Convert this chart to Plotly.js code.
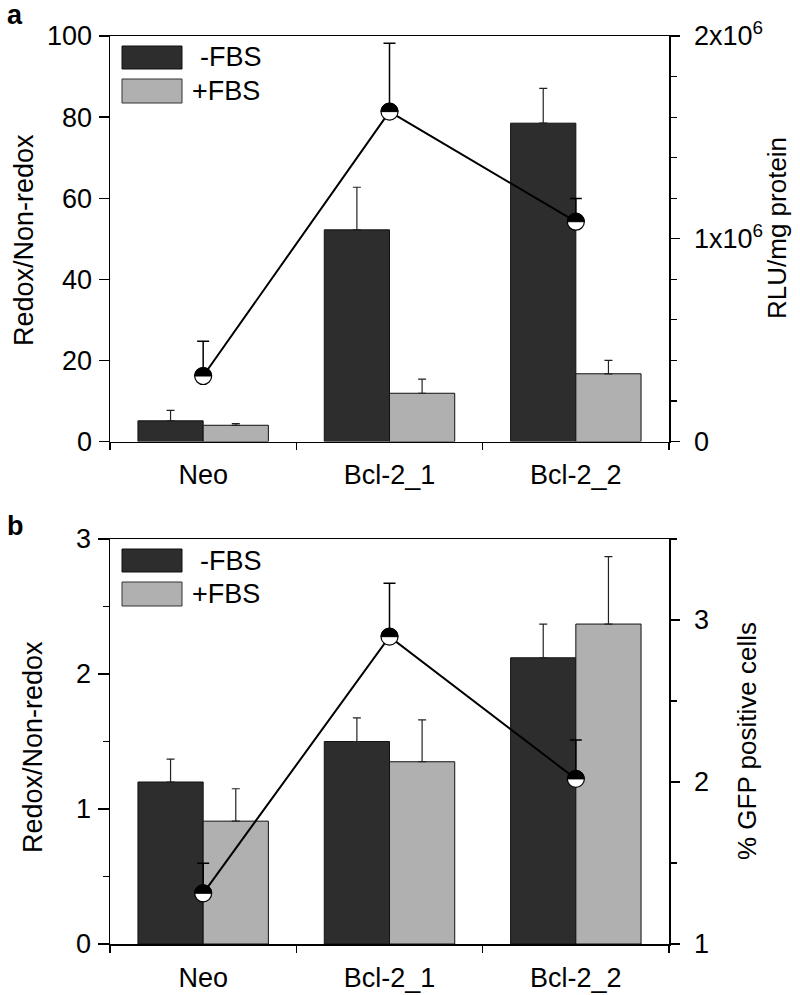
<!DOCTYPE html>
<html>
<head>
<meta charset="utf-8">
<script src="https://cdn.plot.ly/plotly-3.0.1.min.js"></script>
<style>html,body{margin:0;padding:0;background:#fff}</style>
</head>
<body>
<div id="chart" style="width:800px;height:995px"></div>
<script>
// ---- data ----
const categories = ['Neo', 'Bcl-2_1', 'Bcl-2_2'];
const seriesNames = ['-FBS', '+FBS'];

// panel a
const aMinusFBS = [5.1, 52.2, 78.5];
const aMinusFBSErr = [2.6, 10.5, 8.6];
const aPlusFBS = [4.0, 11.9, 16.7];
const aPlusFBSErr = [0.4, 3.5, 3.3];
const aRLU = [0.323e6, 1.627e6, 1.084e6];
const aRLUErr = [0.171e6, 0.337e6, 0.115e6];
const aLeftTicks = [0, 20, 40, 60, 80, 100];
const aRightTicks = [0, 1e6, 2e6];
const aRightTickText = ['0', '1x10<sup>6</sup>', '2x10<sup>6</sup>'];

// panel b
const bMinusFBS = [1.20, 1.50, 2.12];
const bMinusFBSErr = [0.17, 0.175, 0.25];
const bPlusFBS = [0.91, 1.35, 2.37];
const bPlusFBSErr = [0.24, 0.31, 0.50];
const bGFP = [1.313, 2.897, 2.019];
const bGFPErr = [0.185, 0.33, 0.24];
const bLeftTicks = [0, 1, 2, 3];
const bRightTicks = [1, 2, 3];

// ---- styling ----
const FONT = 'Liberation Sans, Arial, sans-serif';
const DARK = '#2d2d2d';
const LIGHT = '#b0b0b0';
const W = 800, H = 995;
const L = 110, R = 669, T = 36, B = 944;
const zeros = [0, 0, 0];

function barTrace(y, err, color, xa, ya, name) {
  return {
    type: 'bar', x: categories, y: y, name: name, xaxis: xa, yaxis: ya,
    marker: {color: color, line: {color: '#111', width: 1}},
    error_y: {type: 'data', array: err, arrayminus: zeros, symmetric: false,
              color: '#222', thickness: 1.2, width: 4},
    showlegend: false, hoverinfo: 'skip'
  };
}
function lineTrace(y, err, xa, ya) {
  return {
    type: 'scatter', mode: 'lines+markers', x: categories, y: y, xaxis: xa, yaxis: ya,
    line: {color: '#000', width: 2},
    marker: {symbol: 'circle', size: 17, color: '#fff', line: {color: '#000', width: 1.2}},
    error_y: {type: 'data', array: err, arrayminus: zeros, symmetric: false,
              color: '#000', thickness: 1.5, width: 6},
    showlegend: false, hoverinfo: 'skip'
  };
}

const data = [
  barTrace(aMinusFBS, aMinusFBSErr, DARK, 'x', 'y', seriesNames[0]),
  barTrace(aPlusFBS, aPlusFBSErr, LIGHT, 'x', 'y', seriesNames[1]),
  lineTrace(aRLU, aRLUErr, 'x', 'y2'),
  barTrace(bMinusFBS, bMinusFBSErr, DARK, 'x2', 'y3', seriesNames[0]),
  barTrace(bPlusFBS, bPlusFBSErr, LIGHT, 'x2', 'y3', seriesNames[1]),
  lineTrace(bGFP, bGFPErr, 'x2', 'y4')
];

// upper half of marker (black) drawn as pixel-size shapes anchored at data points
const r = 8.5, k = 0.5523 * r;
const halfPath = `M ${-r},0 C ${-r},${k} ${-k},${r} 0,${r} C ${k},${r} ${r},${k} ${r},0 Z`;
const shapes = [];
function addHalves(ys, xref, yref) {
  categories.forEach((c, i) => {
    shapes.push({type: 'path', xref: xref, yref: yref, xsizemode: 'pixel', ysizemode: 'pixel',
      xanchor: c, yanchor: ys[i], path: halfPath, fillcolor: '#000',
      line: {color: '#000', width: 1}, layer: 'above'});
  });
}
addHalves(aRLU, 'x', 'y2');
addHalves(bGFP, 'x2', 'y4');

// helpers pixel -> paper
const px = v => (v - L) / (R - L);
const py = v => (B - v) / (B - T);

// legends (decoration)
function legend(y1, y2, y3, y4) {
  shapes.push({type: 'rect', xref: 'paper', yref: 'paper', x0: px(122), x1: px(182), y0: py(y2), y1: py(y1),
    fillcolor: DARK, line: {color: '#111', width: 1}});
  shapes.push({type: 'rect', xref: 'paper', yref: 'paper', x0: px(122), x1: px(182), y0: py(y4), y1: py(y3),
    fillcolor: LIGHT, line: {color: '#333', width: 1}});
}
legend(46, 69, 79, 103);
legend(549, 572, 582, 606);

const annotations = [];
function txt(text, x, y, size, opts) {
  annotations.push(Object.assign({text: text, xref: 'paper', yref: 'paper', x: px(x), y: py(y),
    showarrow: false, font: {family: FONT, size: size, color: '#000'}}, opts || {}));
}
txt('-FBS', 198, 57.5, 27, {xanchor: 'left', yanchor: 'middle'});
txt('+FBS', 190, 91, 27, {xanchor: 'left', yanchor: 'middle'});
txt('-FBS', 198, 560.5, 27, {xanchor: 'left', yanchor: 'middle'});
txt('+FBS', 190, 594, 27, {xanchor: 'left', yanchor: 'middle'});
// panel labels
txt('<b>a</b>', 15, 15, 27, {xanchor: 'center', yanchor: 'middle'});
txt('<b>b</b>', 15, 526, 27, {xanchor: 'center', yanchor: 'middle'});
// axis titles
txt('Redox/Non-redox', 24, 240, 27, {textangle: -90, xanchor: 'center', yanchor: 'middle'});
txt('RLU/mg protein', 777, 228, 26, {textangle: -90, xanchor: 'center', yanchor: 'middle'});
txt('Redox/Non-redox', 33, 747, 27, {textangle: -90, xanchor: 'center', yanchor: 'middle'});
txt('% GFP positive cells', 747, 741, 26, {textangle: -90, xanchor: 'center', yanchor: 'middle'});

const tickFont = {family: FONT, size: 27, color: '#000'};
const axBase = {showgrid: false, zeroline: false, showline: true, linecolor: '#000', linewidth: 1.5,
  ticks: 'outside', tickcolor: '#000', tickwidth: 1.3, tickfont: tickFont, fixedrange: true};

const split = (B - 441.5) / (B - T);
const splitB = (B - 539) / (B - T);

const layout = {
  width: W, height: H,
  margin: {l: L, r: W - R, t: T, b: H - B, pad: 0},
  paper_bgcolor: '#fff', plot_bgcolor: 'rgba(0,0,0,0)',
  barmode: 'group', bargap: 0.3, bargroupgap: 0,
  showlegend: false,
  xaxis: Object.assign({}, axBase, {domain: [0, 1], anchor: 'y', type: 'category', mirror: true,
    tickson: 'boundaries', ticklen: 7, ticklabelstandoff: 9}),
  yaxis: Object.assign({}, axBase, {domain: [split, 1], anchor: 'x', range: [0, 100],
    tickmode: 'array', tickvals: aLeftTicks, ticklen: 10, ticklabelstandoff: 1}),
  yaxis2: Object.assign({}, axBase, {overlaying: 'y', side: 'right', anchor: 'x', range: [0, 2e6],
    tickmode: 'array', tickvals: aRightTicks, ticktext: aRightTickText, ticklen: 9, ticklabelstandoff: 9,
    minor: {tickmode: 'linear', tick0: 0, dtick: 2e5, ticks: 'outside', ticklen: 6, tickcolor: '#000', tickwidth: 1.2}}),
  xaxis2: Object.assign({}, axBase, {domain: [0, 1], anchor: 'y3', type: 'category', mirror: true,
    tickson: 'boundaries', ticklen: 7, ticklabelstandoff: 9}),
  yaxis3: Object.assign({}, axBase, {domain: [0, splitB], anchor: 'x2', range: [0, 3],
    tickmode: 'array', tickvals: bLeftTicks, ticklen: 11, ticklabelstandoff: 1,
    minor: {tickmode: 'linear', tick0: 0, dtick: 0.5, ticks: 'outside', ticklen: 6, tickcolor: '#000', tickwidth: 1.2}}),
  yaxis4: Object.assign({}, axBase, {overlaying: 'y3', side: 'right', anchor: 'x2', range: [1, 3.5],
    tickmode: 'array', tickvals: bRightTicks, ticklen: 9, ticklabelstandoff: 9,
    minor: {tickmode: 'linear', tick0: 1, dtick: 0.5, ticks: 'outside', ticklen: 6, tickcolor: '#000', tickwidth: 1.2}}),
  shapes: shapes,
  annotations: annotations
};

Plotly.newPlot('chart', data, layout, {displayModeBar: false, staticPlot: true});
</script>
</body>
</html>
